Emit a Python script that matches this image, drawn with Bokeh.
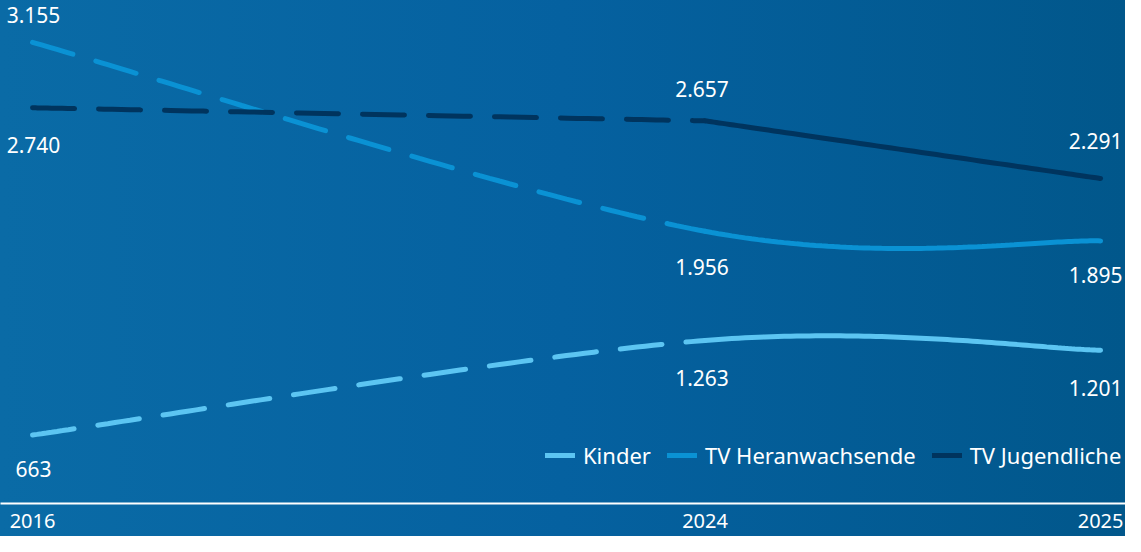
import numpy as np
from bokeh.plotting import figure
from bokeh.models import (Range1d, FixedTicker, CustomJSTickFormatter, Legend,
                          LegendItem, ColumnDataSource)
from bokeh.embed import file_html
from bokeh.resources import INLINE
from bokeh.core.properties import value

# ---------------- data ----------------
years = ["2016", "2024", "2025"]
kinder = [663, 1263, 1201]
heranwachsende = [3155, 1956, 1895]
jugendliche = [2740, 2657, 2291]
series_names = ["Kinder", "TV Heranwachsende", "TV Jugendliche"]

# ---------------- layout / style ----------------
x_slots = [0.0, 1.7, 2.7]          # horizontal slot of each year on the axis
colors = ["#5cc5f2", "#0a92d4", "#00345e"]
tensions = [0.0, 0.0, 1.0]          # curve smoothing per series (1 = straight)
label_dy = [                        # pixel offsets of value labels (+ = below)
    [34, 38, 38],
    [-27, 36, 34],
    [37, -32, -38],
]
label_dx = [1, -3, -5]              # per-year horizontal nudge of value labels
FONT = "Noto Sans"


def cardinal(xs, ys, tension=0.0, n=80):
    P = np.column_stack([xs, ys]).astype(float)
    N = len(P)
    m = np.array([(1 - tension) * (P[min(i + 1, N - 1)] - P[max(i - 1, 0)]) / 2 for i in range(N)])
    t = np.linspace(0, 1, n)[:, None]
    segs = []
    for i in range(N - 1):
        c1 = P[i] + m[i] / 3
        c2 = P[i + 1] - m[i + 1] / 3
        B = ((1 - t) ** 3) * P[i] + 3 * ((1 - t) ** 2) * t * c1 + 3 * (1 - t) * t ** 2 * c2 + t ** 3 * P[i + 1]
        segs.append(B)
    return segs


def fmt(v):
    return f"{v:,}".replace(",", ".")


p = figure(width=1125, height=536, output_backend="svg", toolbar_location=None,
           x_range=Range1d(-0.081, 2.763), y_range=Range1d(228, 3421),
           y_axis_location=None, min_border_left=0, min_border_right=0,
           min_border_top=0, min_border_bottom=33)
p.background_fill_alpha = 0
p.border_fill_alpha = 0
p.outline_line_color = None
p.styles = {"background": "linear-gradient(90deg, #0a6ba6 0%, #0561a0 50%, #01578b 100%)"}
p.xgrid.visible = False
p.ygrid.visible = False

items = []
for name, vals, col, ten, offs in zip(series_names, [kinder, heranwachsende, jugendliche],
                                      colors, tensions, label_dy):
    seg1, seg2 = cardinal(x_slots, vals, ten)
    p.line(seg1[:, 0], seg1[:, 1], line_color=col, line_width=5, line_dash="42 24", line_cap="round")
    r = p.line(seg2[:, 0], seg2[:, 1], line_color=col, line_width=5, line_cap="round")
    items.append(LegendItem(label=name, renderers=[r]))
    src = ColumnDataSource(dict(x=x_slots, y=vals, t=[fmt(v) for v in vals], dy=offs, dx=label_dx))
    p.text(x="x", y="y", text="t", y_offset="dy", x_offset="dx", source=src, text_color="white",
           text_font=value(FONT), text_font_size="21px", text_align="center", text_baseline="middle")

legend = Legend(items=items, orientation="horizontal", location=(545, 33),
                background_fill_alpha=0, border_line_alpha=0, padding=0, margin=0,
                glyph_width=30, label_standoff=8, spacing=16,
                label_text_color="white", label_text_font=FONT, label_text_font_size="22px")
p.add_layout(legend)

ax = p.xaxis[0]
ax.ticker = FixedTicker(ticks=x_slots)
ax.formatter = CustomJSTickFormatter(args=dict(pos=x_slots, labels=years), code="""
    for (let i = 0; i < pos.length; i++) { if (Math.abs(pos[i] - tick) < 1e-6) return labels[i]; }
    return "";
""")
ax.axis_line_color = "white"
ax.axis_line_width = 2
ax.major_tick_line_color = None
ax.minor_tick_line_color = None
ax.major_label_text_color = "white"
ax.major_label_text_font = FONT
ax.major_label_text_font_size = "20px"
ax.major_label_standoff = 4

open("out.html", "w").write(file_html(p, INLINE))
